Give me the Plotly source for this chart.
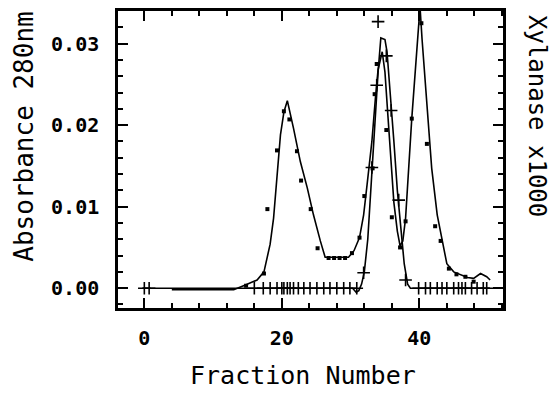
import plotly.graph_objects as go

abs_line_x = [4.0, 13.0, 14.7, 16.4, 17.4, 18.3, 18.8, 19.3, 19.8, 20.3, 20.8, 21.7, 22.7, 23.7,
              24.6, 25.6, 26.3, 29.7, 30.5, 31.3, 31.9, 32.4, 33.1, 33.6, 34.0, 34.6, 35.0,
              35.4, 35.8, 36.3, 36.8, 37.2, 37.6, 38.0, 38.9, 39.7, 40.1, 40.4, 41.1, 41.8,
              42.6, 43.3, 44.0, 45.0, 46.0, 47.0, 47.9, 48.9, 49.8, 50.3]
abs_line_y = [-0.0002, -0.0002, 0.0004, 0.0010, 0.0020, 0.0054, 0.0086, 0.0135, 0.0188, 0.0216,
              0.0230, 0.0196, 0.0155, 0.0123, 0.0090, 0.0058, 0.0038, 0.0038, 0.0046, 0.0062,
              0.0090, 0.0127, 0.0180, 0.0232, 0.0268, 0.0290, 0.0265, 0.0215, 0.0165, 0.0105,
              0.0070, 0.0052, 0.0058, 0.0086, 0.0208, 0.0300, 0.0345, 0.0305, 0.0228, 0.0147,
              0.0090, 0.0058, 0.0030, 0.0020, 0.0016, 0.0013, 0.0012, 0.0018, 0.0014, 0.0010]

abs_dot_x = [14.8, 17.4, 17.9, 19.3, 20.3, 21.1, 22.2, 22.8, 24.2, 25.2, 26.8, 27.6, 28.4, 29.2,
             30.2, 31.3, 32.0, 33.2, 33.5, 33.8, 35.2, 36.0, 37.2, 38.0, 38.9, 40.3, 41.1,
             42.3, 43.1, 44.3, 45.4, 46.7, 47.9]
abs_dot_y = [0.0003, 0.0018, 0.0097, 0.0169, 0.0217, 0.0207, 0.0168, 0.0132, 0.0097, 0.0049,
             0.0037, 0.0037, 0.0037, 0.0037, 0.0043, 0.0062, 0.0113, 0.0147, 0.0238, 0.0275,
             0.0194, 0.0087, 0.0050, 0.0082, 0.0208, 0.0325, 0.0177, 0.0076, 0.0058, 0.0024,
             0.0017, 0.0014, 0.0008]

# Xylanase x1000: fitted curve and measured points (+)
xyl_line_x = [-0.3, 30.3, 30.8, 31.2, 31.6, 32.0, 32.5, 33.0, 33.5, 34.0, 34.4, 35.0, 35.3,
              35.8, 36.3, 36.8, 37.3, 37.8, 38.3, 38.7, 50.3]
xyl_line_y = [0.0, 0.0, -0.0005, -0.0003, 0.0005, 0.0020, 0.0060, 0.0130, 0.0200, 0.0265,
              0.0307, 0.0305, 0.0290, 0.0240, 0.0180, 0.0120, 0.0070, 0.0030, 0.0005, 0.0, 0.0]

xyl_pt_x = [0.0, 0.7, 16.0, 17.3, 18.3, 19.3, 20.0, 20.3, 20.8, 21.2, 21.7, 22.4, 23.2, 24.1,
            25.1, 26.1, 27.0, 28.0, 29.0, 29.9, 30.9, 31.9, 33.1, 33.8, 34.0, 35.2, 35.9,
            37.0, 38.0, 39.9, 40.9, 41.6, 42.6, 43.3, 44.0, 45.0, 45.7, 46.2, 46.7, 47.6,
            48.4, 49.3, 49.8]
xyl_pt_y = [0.0, 0.0, 0.0, 0.0, 0.0, 0.0, 0.0, 0.0, 0.0, 0.0, 0.0, 0.0, 0.0, 0.0,
            0.0, 0.0, 0.0, 0.0, 0.0, 0.0, 0.0, 0.0019, 0.0148, 0.0249, 0.0327, 0.0285, 0.0218,
            0.0108, 0.0010, 0.0, 0.0, 0.0, 0.0, 0.0, 0.0, 0.0, 0.0, 0.0, 0.0, 0.0,
            0.0, 0.0, 0.0]

x_title = "Fraction Number"
y_title = "Absorbance 280nm"
y2_title = "Xylanase x1000"

W, H = 553, 396
L, R, T, B = 118, 503, 8, 308

fig = go.Figure()
fig.add_trace(go.Scatter(x=xyl_line_x, y=xyl_line_y, mode="lines",
                         line=dict(color="black", width=1.6), showlegend=False))
fig.add_trace(go.Scatter(x=abs_line_x, y=abs_line_y, mode="lines",
                         line=dict(color="black", width=1.6), showlegend=False))
fig.add_trace(go.Scatter(x=abs_dot_x, y=abs_dot_y, mode="markers",
                         marker=dict(symbol="square", size=4, color="black"), showlegend=False))
fig.add_trace(go.Scatter(x=xyl_pt_x, y=xyl_pt_y, mode="markers",
                         marker=dict(symbol="cross-thin", size=9,
                                     line=dict(color="black", width=1.6)), showlegend=False))

tickfont = dict(family="DejaVu Sans Mono", size=20, color="black", weight="bold")
axis_common = dict(showline=True, linecolor="black", linewidth=2.5, mirror="allticks",
                   ticks="inside", ticklen=10, tickwidth=1.5, tickcolor="black",
                   showgrid=False, zeroline=False, tickfont=tickfont)

fig.update_xaxes(range=[-3.83, 52.17], tick0=0, dtick=20, ticklabelstandoff=10,
                 minor=dict(dtick=4, tick0=0, ticks="inside", ticklen=5, tickwidth=1.5,
                            tickcolor="black"),
                 **axis_common)
fig.update_yaxes(range=[-0.00243, 0.0340], tick0=0, dtick=0.01, tickformat=".2f",
                 ticklabelstandoff=12,
                 minor=dict(dtick=0.002, tick0=0, ticks="inside", ticklen=5, tickwidth=1.5,
                            tickcolor="black"),
                 **axis_common)

def px_x(p):
    return (p - L) / (R - L)

def px_y(p):
    return (B - p) / (B - T)

title_font = dict(family="DejaVu Sans Mono", size=25, color="black")
fig.add_annotation(text=x_title, xref="paper", yref="paper", x=px_x(303), y=px_y(376),
                   showarrow=False, font=title_font, xanchor="center", yanchor="middle")
fig.add_annotation(text=y_title, xref="paper", yref="paper", x=px_x(24), y=px_y(135),
                   showarrow=False, font=dict(title_font, size=26), textangle=-90,
                   xanchor="center", yanchor="middle")
fig.add_annotation(text=y2_title, xref="paper", yref="paper", x=px_x(537), y=px_y(114),
                   showarrow=False, font=dict(title_font, size=24), textangle=90,
                   xanchor="center", yanchor="middle")

fig.update_layout(width=W, height=H, margin=dict(l=L, r=W - R, t=T, b=H - B, pad=0),
                  paper_bgcolor="white", plot_bgcolor="white", showlegend=False)

fig.write_html("out.html")
